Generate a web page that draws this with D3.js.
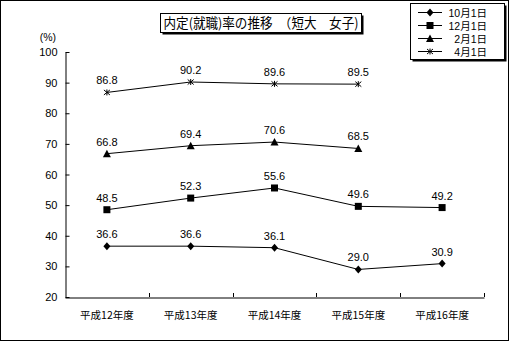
<!DOCTYPE html>
<html>
<head>
<meta charset="utf-8">
<script src="https://cdn.jsdelivr.net/npm/d3@7"></script>
<style>
  html, body { margin: 0; padding: 0; background: #fff; }
  svg { display: block; }
  text { font-family: "Liberation Sans", Arial, "Noto Sans CJK JP", sans-serif; fill: #000; }
  .jp { font-family: "Noto Sans CJK JP", "Liberation Sans", sans-serif; }
</style>
</head>
<body>
<div id="chart"></div>
<script>
// Fiscal years on the x axis
const categories = ["平成12年度", "平成13年度", "平成14年度", "平成15年度", "平成16年度"];
// Placement rate (%) by survey date
const oct1 = [36.6, 36.6, 36.1, 29.0, 30.9];
const dec1 = [48.5, 52.3, 55.6, 49.6, 49.2];
const feb1 = [66.8, 69.4, 70.6, 68.5, null];
const apr1 = [86.8, 90.2, 89.6, 89.5, null];
const seriesNames = ["10月1日", "12月1日", "2月1日", "4月1日"];
const yTicks = [20, 30, 40, 50, 60, 70, 80, 90, 100];
const titleText = "内定(就職)率の推移　（短大　女子)";

const W = 509, H = 341;
const svg = d3.select("#chart").append("svg").attr("width", W).attr("height", H);

// outer frame
svg.append("rect").attr("x", 0.5).attr("y", 0.5).attr("width", W - 1).attr("height", H - 1)
  .attr("fill", "#fff").attr("stroke", "#000");

const x = d3.scaleBand().domain(categories).range([65, 484]);
const y = d3.scaleLinear().domain([20, 100]).range([297, 52]);

// axes
const yAxis = d3.axisLeft(y).tickValues(yTicks).tickSizeInner(-4).tickSizeOuter(0).tickPadding(8);
const gy = svg.append("g").attr("transform", "translate(65.5,0)").call(yAxis);
gy.selectAll("text").attr("font-size", 11).attr("dx", 0);

const xAxis = d3.axisBottom(x).tickSize(0).tickPadding(14);
const gx = svg.append("g").attr("transform", "translate(0,297.5)").call(xAxis);
gx.selectAll("text").attr("class", "jp").attr("font-size", 10.5);
svg.selectAll(".domain").attr("stroke", "#000");
svg.selectAll(".tick line").attr("stroke", "#000");

// inward ticks at band boundaries on x axis
const bounds = categories.map(c => x(c)).concat([x.range()[1]]).slice(1);
svg.append("g").selectAll("line").data(bounds).join("line")
  .attr("x1", d => Math.round(d) + 0.5).attr("x2", d => Math.round(d) + 0.5)
  .attr("y1", 297).attr("y2", 293).attr("stroke", "#000");

svg.append("text").attr("x", 56).attr("y", 41).attr("text-anchor", "end")
  .attr("font-size", 10.5).text("(%)");

const cx = c => x(c) + x.bandwidth() / 2;
const allSeries = [oct1, dec1, feb1, apr1];
const markers = ["diamond", "square", "triangle", "star"];

function drawMarker(g, type, px, py) {
  if (type === "diamond") {
    g.append("path").attr("d", `M${px},${py - 4}L${px + 3.5},${py}L${px},${py + 4}L${px - 3.5},${py}Z`).attr("fill", "#000");
  } else if (type === "square") {
    g.append("rect").attr("x", px - 3.5).attr("y", py - 3.5).attr("width", 7).attr("height", 7).attr("fill", "#000");
  } else if (type === "triangle") {
    g.append("path").attr("d", `M${px},${py - 4}L${px + 4},${py + 3.5}L${px - 4},${py + 3.5}Z`).attr("fill", "#000");
  } else {
    g.append("path").attr("d", `M${px - 3},${py - 2.5}L${px + 3},${py + 2.5}M${px - 3},${py + 2.5}L${px + 3},${py - 2.5}M${px},${py - 3}L${px},${py + 3}`)
      .attr("stroke", "#000").attr("stroke-width", 1).attr("fill", "none");
  }
}

const line = d3.line().defined(d => d.v != null).x(d => cx(d.c)).y(d => y(d.v));

allSeries.forEach((vals, i) => {
  const pts = vals.map((v, j) => ({ c: categories[j], v }));
  const g = svg.append("g");
  g.append("path").attr("d", line(pts)).attr("fill", "none").attr("stroke", "#000").attr("stroke-width", 1);
  pts.filter(d => d.v != null).forEach(d => {
    drawMarker(g, markers[i], cx(d.c), y(d.v));
    g.append("text").attr("x", cx(d.c)).attr("y", y(d.v) - 8).attr("text-anchor", "middle")
      .attr("font-size", 11).text(d.v.toFixed(1));
  });
});

// title box with drop shadow
const tb = { x: 160.5, y: 13.5, w: 201, h: 19 };
svg.append("rect").attr("x", tb.x + 2).attr("y", tb.y + 2).attr("width", tb.w).attr("height", tb.h).attr("fill", "#000");
svg.append("rect").attr("x", tb.x).attr("y", tb.y).attr("width", tb.w).attr("height", tb.h).attr("fill", "#fff").attr("stroke", "#000");
svg.append("text").attr("class", "jp").attr("x", tb.x + 3).attr("y", tb.y + 14.5)
  .attr("font-size", 13.5).attr("textLength", tb.w - 6).attr("lengthAdjust", "spacingAndGlyphs").text(titleText);

// legend box with drop shadow
const lb = { x: 410.5, y: 3.5, w: 94, h: 56 };
svg.append("rect").attr("x", lb.x + 2).attr("y", lb.y + 2).attr("width", lb.w).attr("height", lb.h).attr("fill", "#000");
svg.append("rect").attr("x", lb.x).attr("y", lb.y).attr("width", lb.w).attr("height", lb.h).attr("fill", "#fff").attr("stroke", "#000");
seriesNames.forEach((name, i) => {
  const ly = 12 + i * 13;
  const g = svg.append("g");
  g.append("line").attr("x1", 418).attr("x2", 442).attr("y1", ly + 0.5).attr("y2", ly + 0.5).attr("stroke", "#000");
  drawMarker(g, markers[i], 430, ly + 0.5);
  g.append("text").attr("x", 487).attr("y", ly + 4.5).attr("text-anchor", "end")
    .attr("font-size", 10.5).text(name);
});
</script>
</body>
</html>
